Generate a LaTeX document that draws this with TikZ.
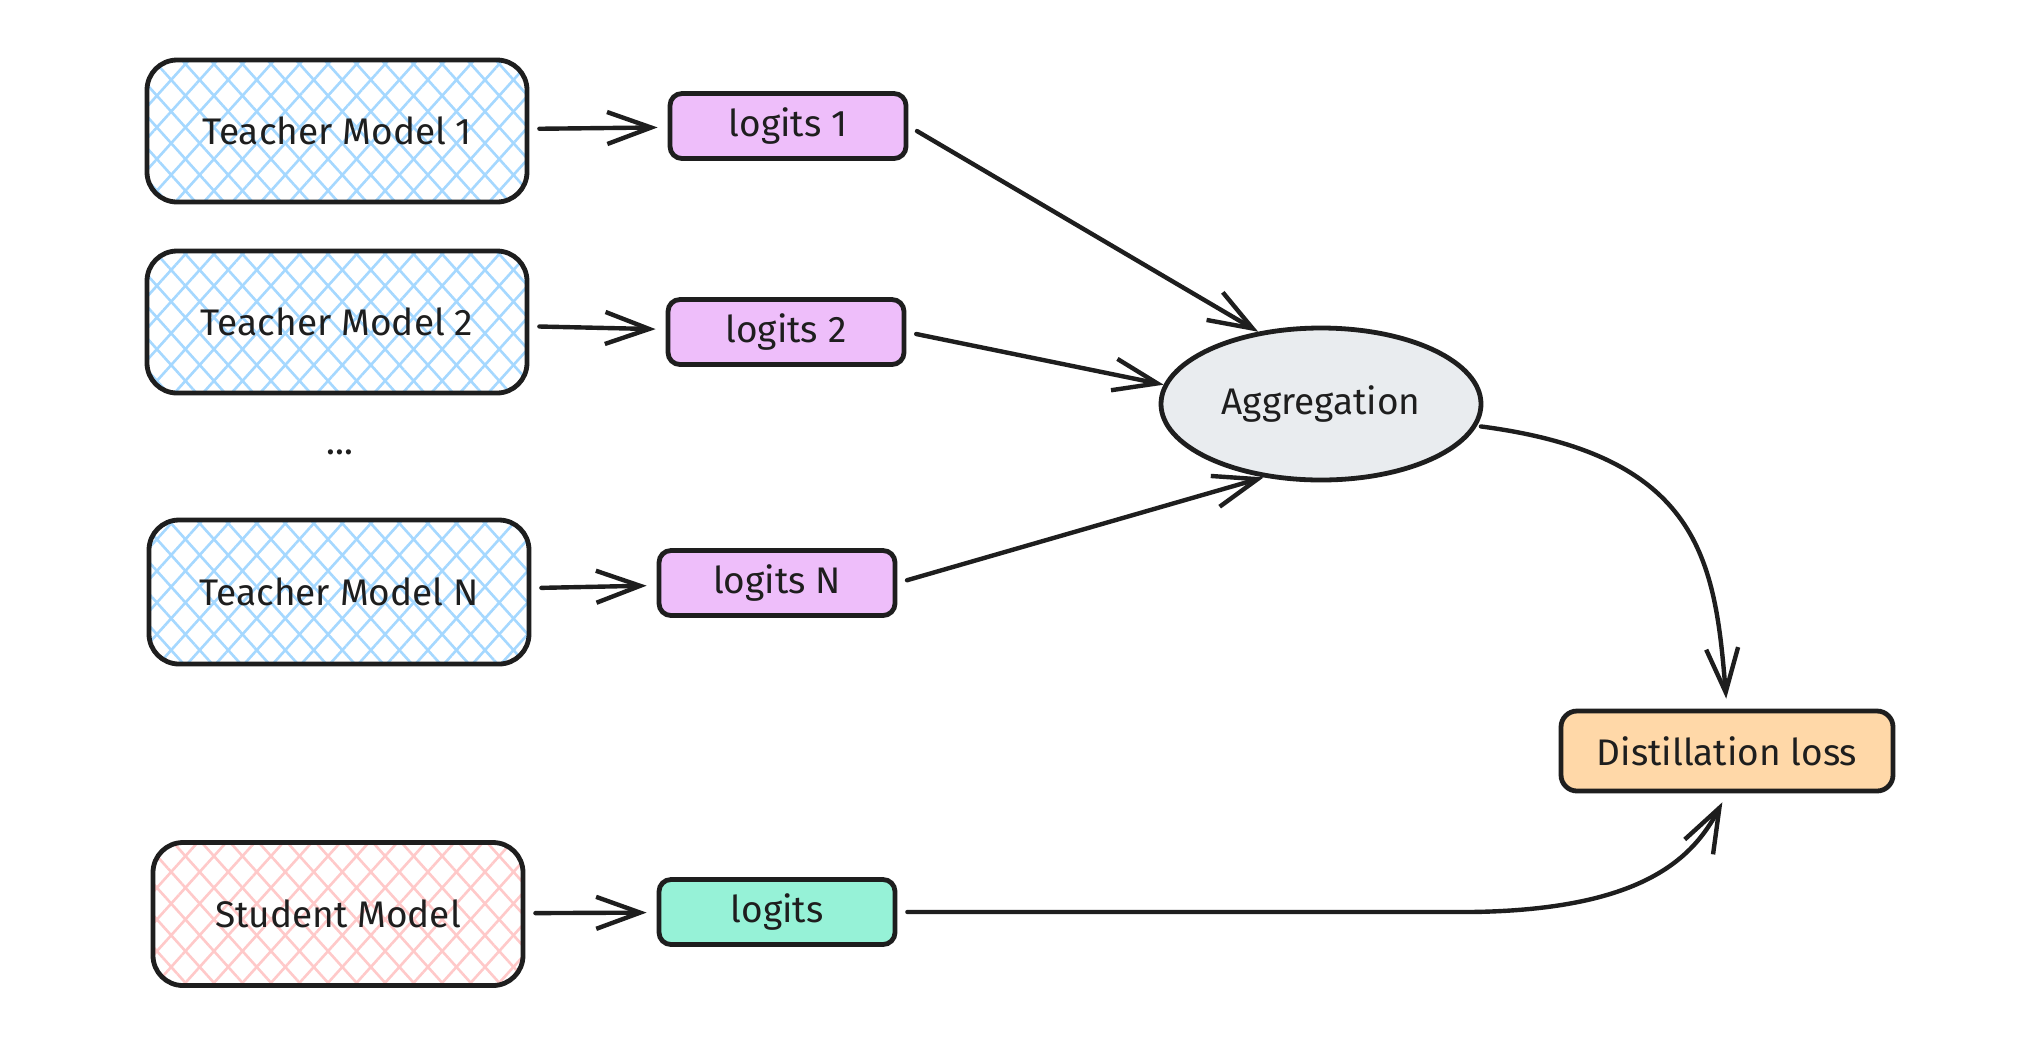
\documentclass[tikz,border=0pt]{standalone}
\usepackage{fontspec}
\setmainfont{Fira Sans}
\usetikzlibrary{arrows.meta,shapes.geometric,patterns.meta}
\definecolor{ink}{HTML}{1E1E1E}
\definecolor{hatchblue}{HTML}{A5D8FF}
\definecolor{hatchpink}{HTML}{FFC9C9}
\definecolor{logitpurple}{HTML}{EEBEFA}
\definecolor{logitgreen}{HTML}{96F2D7}
\definecolor{agggray}{HTML}{E9ECEF}
\definecolor{lossorange}{HTML}{FFD8A8}
\tikzset{
  lbl/.style={font=\fontsize{18.5}{22}\selectfont, text=ink},
  modelbox/.style={lbl, draw=ink, line width=2.4pt, rounded corners=15pt,
    minimum width=190pt, minimum height=71pt, inner sep=0pt},
  hatch/.style={
    preaction={pattern={Lines[angle=48,distance=10.6pt,line width=1.3pt]}, pattern color=#1},
    preaction={pattern={Lines[angle=-48,distance=10.6pt,line width=1.3pt]}, pattern color=#1}},
  logitbox/.style={lbl, draw=ink, line width=2.4pt, rounded corners=6pt,
    minimum width=118pt, minimum height=32.5pt, inner sep=0pt, fill=#1},
  conn/.style={draw=ink, line width=2.2pt, line cap=round,
    -{Straight Barb[length=22pt,width=16pt,line width=2.2pt]},
    shorten <=5pt, shorten >=5pt},
}
\begin{document}
\begin{tikzpicture}[x=0.5pt,y=-0.5pt]
\useasboundingbox[fill=white] (0,0) rectangle (2034,1062);

% teacher / student models
\node[modelbox, hatch=hatchblue] (t1) at (337,131) {Teacher Model 1};
\node[modelbox, hatch=hatchblue] (t2) at (337,322) {Teacher Model 2};
\node[lbl] (dots) at (340,452) {...};
\node[modelbox, hatch=hatchblue, minimum height=72pt] (tn) at (339,592) {Teacher Model N};
\node[modelbox, hatch=hatchpink, minimum width=185pt, minimum height=71.5pt] (st) at (338,914) {Student Model};

% logits
\node[logitbox=logitpurple] (l1) at (788,126) {logits 1};
\node[logitbox=logitpurple] (l2) at (786,332) {logits 2};
\node[logitbox=logitpurple] (ln) at (777,583) {logits N};
\node[logitbox=logitgreen] (ls) at (777,912) {logits};

% aggregation and loss
\node[lbl, ellipse, draw=ink, line width=2.4pt, fill=agggray, inner sep=0pt,
      minimum width=160pt, minimum height=76pt] (agg) at (1321,404) {Aggregation};
\node[lbl, draw=ink, line width=2.4pt, rounded corners=8pt, fill=lossorange,
      minimum width=166pt, minimum height=40pt, inner sep=0pt] (loss) at (1727,751) {Distillation loss};

% connectors
\draw[conn] (t1) -- (l1);
\draw[conn] (t2) -- (l2);
\draw[conn] (tn) -- (ln);
\draw[conn] (st) -- (ls);

\draw[conn, shorten >=0pt] (l1.east) -- (agg.131);
\draw[conn, shorten >=0pt] (l2.east) -- (agg.173);
\draw[conn, shorten >=0pt] (ln.east) -- (agg.232);

\draw[conn, shorten <=2pt] (agg.-8) .. controls (1700,455) and (1715,560) .. (loss.north);
\draw[conn] (ls.east) -- (1470,912) .. controls (1640,910) and (1692,860) .. (loss.south);
\end{tikzpicture}
\end{document}
